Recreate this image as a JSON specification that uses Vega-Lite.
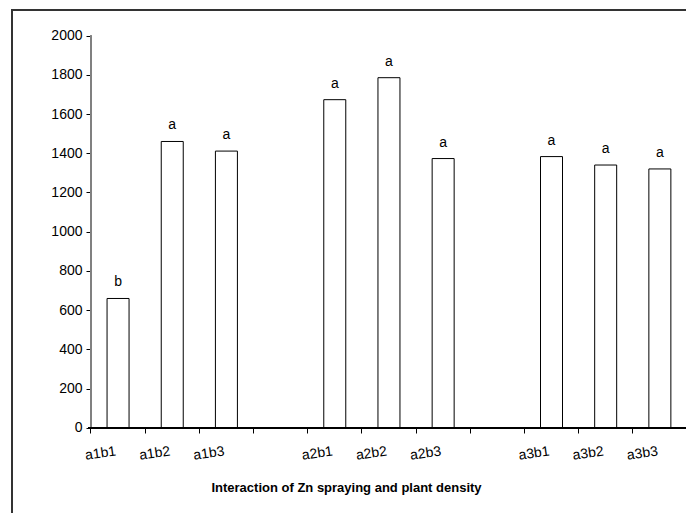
{
  "$schema": "https://vega.github.io/schema/vega-lite/v6.json",
  "autosize": {"type": "none"},
  "padding": {"left": 12, "top": 10, "right": 0, "bottom": 0},
  "width": 690,
  "height": 510,
  "background": "white",
  "view": {"stroke": "#333333", "strokeWidth": 2},
  "data": {
    "values": [
      {"cat": "a1b1", "value": 660, "letter": "b"},
      {"cat": "a1b2", "value": 1460, "letter": "a"},
      {"cat": "a1b3", "value": 1411, "letter": "a"},
      {"cat": "a2b1", "value": 1673, "letter": "a"},
      {"cat": "a2b2", "value": 1785, "letter": "a"},
      {"cat": "a2b3", "value": 1373, "letter": "a"},
      {"cat": "a3b1", "value": 1383, "letter": "a"},
      {"cat": "a3b2", "value": 1340, "letter": "a"},
      {"cat": "a3b3", "value": 1320, "letter": "a"}
    ]
  },
  "layer": [
    {
      "mark": {"type": "bar", "width": 22, "fill": "white", "stroke": "#000", "strokeWidth": 1},
      "encoding": {
        "x": {
          "field": "cat",
          "type": "nominal",
          "sort": null,
          "scale": {
            "domain": ["a1b1", "a1b2", "a1b3", " ", "a2b1", "a2b2", "a2b3", "  ", "a3b1", "a3b2", "a3b3"],
            "paddingInner": 0,
            "paddingOuter": 0.8675,
            "align": 0.84
          },
          "axis": {
            "offset": -92,
            "domain": false,
            "bandPosition": 0,
            "labelOffset": -3,
            "labelAngle": -8,
            "labelAlign": "right",
            "labelBaseline": "top",
            "labelPadding": 11,
            "labelFontSize": 14,
            "labelColor": "#000",
            "labelFont": "Liberation Sans",
            "tickColor": "#000",
            "tickSize": 5,
            "title": "Interaction of Zn spraying and plant density",
            "titleFont": "Liberation Sans",
            "titleFontSize": 13,
            "titleFontWeight": "bold",
            "titleColor": "#000",
            "titleX": 334,
            "titleY": 63,
            "titleAlign": "center",
            "titleBaseline": "alphabetic",
            "labelFlush": false,
            "labelOverlap": false
          }
        },
        "y": {
          "field": "value",
          "type": "quantitative",
          "scale": {"domain": [-468.8, 2129.94], "nice": false, "zero": false},
          "axis": {
            "offset": -79,
            "domain": false,
            "format": "d",
            "values": [0, 200, 400, 600, 800, 1000, 1200, 1400, 1600, 1800, 2000],
            "grid": false,
            "title": null,
            "labelFontSize": 14,
            "labelColor": "#000",
            "labelFont": "Liberation Sans",
            "labelPadding": 4,
            "tickColor": "#000",
            "tickSize": 5
          }
        }
      }
    },
    {
      "mark": {"type": "text", "dy": -12, "baseline": "alphabetic", "fontSize": 14, "font": "Liberation Sans", "color": "#000"},
      "encoding": {
        "x": {"field": "cat", "type": "nominal", "sort": null},
        "y": {"field": "value", "type": "quantitative"},
        "text": {"field": "letter"}
      }
    },
    {
      "mark": {"type": "rule", "color": "#808080", "strokeWidth": 1, "xOffset": -27.1},
      "encoding": {
        "x": {"datum": "a1b1", "type": "nominal"},
        "y": {"datum": 0, "type": "quantitative"},
        "y2": {"datum": 2000}
      }
    },
    {
      "mark": {"type": "rule", "color": "#000", "strokeWidth": 1, "xOffset": -30, "x2Offset": 40},
      "encoding": {
        "x": {"datum": "a1b1", "type": "nominal"},
        "x2": {"datum": "a3b3"},
        "y": {"datum": 0, "type": "quantitative"}
      }
    }
  ]
}
